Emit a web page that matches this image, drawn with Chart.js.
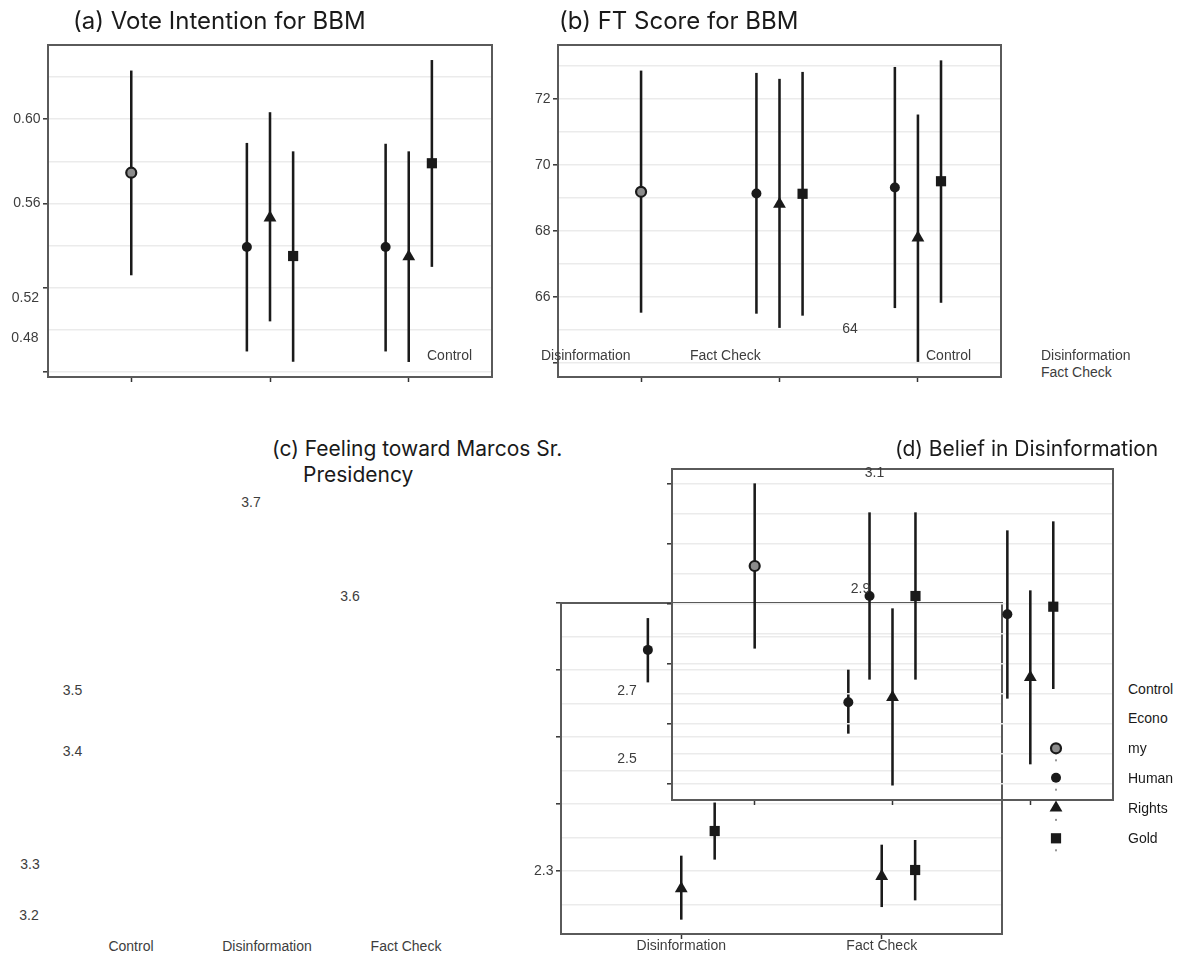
<!DOCTYPE html>
<html>
<head>
<meta charset="utf-8">
<script src="https://cdn.jsdelivr.net/npm/chart.js@4.4.1/dist/chart.umd.min.js"></script>
<style>
  body { margin: 0; background: #fff; }
  #page { position: relative; width: 1186px; height: 956px; overflow: hidden; font-family: 'Liberation Sans', Arial, sans-serif; }
  .panel { position: absolute; }
  .title { position: absolute; font-family: Inter, sans-serif; font-size: 21px; color: #1a1a1a; white-space: nowrap; line-height: 1; transform: translateY(-50%); }
  .title.big { font-size: 24px; }
  .note { position: absolute; font-size: 14px; color: #3d3d3d; white-space: nowrap; line-height: 1; }
  .key { color: #1a1a1a; }
</style>
</head>
<body>
<div id="page"></div>
<script>
// groups on the x axis
const allGroups = ['Control', 'Disinformation', 'Fact Check'];
const treatGroups = ['Disinformation', 'Fact Check'];

// each row: estimate, lower CI, upper CI (one row per group the series appears in)
// (a) vote intention
const voteControl = [[0.5746, 0.526, 0.623]];
const voteEconomy = [[0.5393, 0.4898, 0.5886], [0.5393, 0.4898, 0.5882]];
const voteHuman = [[0.5532, 0.5041, 0.6032], [0.5347, 0.4848, 0.5846]];
const voteGold = [[0.535, 0.4849, 0.5846], [0.5791, 0.530, 0.628]];

// (b) FT score
const ftControl = [[69.19, 65.54, 72.85]];
const ftEconomy = [[69.14, 65.51, 72.78], [69.32, 65.68, 72.96]];
const ftHuman = [[68.82, 65.08, 72.6], [67.8, 64.05, 71.52]];
const ftGold = [[69.13, 65.45, 72.81], [69.51, 65.84, 73.16]];

// lower box (treatment groups only)
const lowEconomy = [[2.63, 2.582, 2.677], [2.552, 2.5055, 2.6]];
const lowHuman = [[2.2737, 2.2279, 2.3224], [2.2922, 2.2467, 2.3388]];
const lowGold = [[2.3597, 2.3175, 2.4017], [2.3015, 2.2567, 2.3458]];

// upper box
const upControl = [[2.9633, 2.8262, 3.1005]];
const upEconomy = [[2.9133, 2.7745, 3.0522], [2.8828, 2.7428, 3.0222]];
const upHuman = [[2.7445, 2.598, 2.8922], [2.7777, 2.6333, 2.9222]];
const upGold = [[2.9133, 2.7745, 3.0522], [2.8955, 2.7589, 3.0372]];

// y gridlines, tick marks and the tick labels kept on each axis
const voteGrid = [0.48, 0.50, 0.52, 0.54, 0.56, 0.58, 0.60, 0.62];
const voteMajor = [0.48, 0.52, 0.56, 0.60];
const voteShown = ['0.60', '0.56'];
const ftGrid = [64, 65, 66, 67, 68, 69, 70, 71, 72, 73];
const ftMajor = [64, 66, 68, 70, 72];
const ftShown = ['66', '68', '70', '72'];
const lowGrid = [2.25, 2.3, 2.35, 2.4, 2.45, 2.5, 2.55, 2.6, 2.65, 2.7];
const lowMajor = [2.3, 2.4, 2.5, 2.6, 2.7];
const lowShown = ['2.3'];
const upGrid = [2.6, 2.65, 2.7, 2.75, 2.8, 2.85, 2.9, 2.95, 3.0, 3.05, 3.1];
const upMajor = [2.6, 2.7, 2.8, 2.9, 3.0, 3.1];
const upShown = [];

const legendLabels = ['Control', 'Econo', 'my', 'Human', 'Rights', 'Gold'];

const INK = '#1a1a1a';
const dodge = { Control: 0, Economy: -1 / 6, 'Human Rights': 0, Gold: 1 / 6 };
const marker = {
  Control: { pointStyle: 'circle', pointRadius: 5, pointBackgroundColor: '#8c8c8c', pointBorderColor: INK, pointBorderWidth: 2.2 },
  Economy: { pointStyle: 'circle', pointRadius: 5, pointBackgroundColor: INK, pointBorderWidth: 0 },
  'Human Rights': { pointStyle: 'triangle', pointRadius: 7.4, pointBackgroundColor: INK, pointBorderWidth: 0 },
  Gold: { pointStyle: 'rect', pointRadius: 7.2, pointBackgroundColor: INK, pointBorderWidth: 0 }
};

const page = document.getElementById('page');

const framePlugin = {
  id: 'frame',
  afterDraw(chart) {
    const { ctx, chartArea: a } = chart;
    ctx.save();
    ctx.strokeStyle = '#5a5a5a';
    ctx.lineWidth = 2;
    ctx.strokeRect(a.left, a.top, a.right - a.left, a.bottom - a.top);
    ctx.restore();
  }
};

function makePanel(p) {
  const [x0, y0, x1, y1] = p.frame;
  const w = x1 - x0 + 72, h = y1 - y0 + 42;
  const canvas = document.createElement('canvas');
  canvas.className = 'panel';
  canvas.width = w; canvas.height = h;
  canvas.style.left = (x0 - 60) + 'px';
  canvas.style.top = (y0 - 12) + 'px';
  page.appendChild(canvas);

  const datasets = [];
  for (const [name, rows] of Object.entries(p.series)) {
    const gs = name === 'Control' ? ['Control'] : treatGroups;
    const pts = rows.map((r, i) => ({ x: p.groups.indexOf(gs[i]) + dodge[name], est: r[0], lo: r[1], hi: r[2] }));
    datasets.push({
      type: 'bar', label: name + ' CI',
      data: pts.map(d => ({ x: d.x, y: [d.lo, d.hi] })),
      backgroundColor: INK, barThickness: 1.9, grouped: false, order: 2
    });
    datasets.push(Object.assign({
      type: 'scatter', label: name,
      data: pts.map(d => ({ x: d.x, y: d.est })),
      order: 1
    }, marker[name]));
  }

  const isMajor = v => p.major.some(m => Math.abs(m - v) < 1e-9);
  const labelFor = v => p.shown.find(s => Math.abs(parseFloat(s) - v) < 1e-9) || '';

  new Chart(canvas, {
    type: 'scatter',
    data: { datasets },
    options: {
      responsive: false,
      animation: false,
      events: [],
      layout: { padding: { top: 12, right: 12, left: 0, bottom: 0 } },
      plugins: { legend: { display: false }, tooltip: { enabled: false } },
      scales: {
        x: {
          type: 'linear', min: -0.6, max: p.groups.length - 0.4, offset: false,
          afterBuildTicks: s => { s.ticks = p.groups.map((g, i) => ({ value: i })); },
          afterFit: s => { s.height = 30; },
          border: { display: false },
          grid: { offset: false, drawOnChartArea: false, drawTicks: true, tickLength: 5, tickColor: '#333', tickWidth: 1.5 },
          ticks: {
            display: !!p.xLabels, autoSkip: false, maxRotation: 0, padding: -1.5,
            color: '#3d3d3d', font: { size: 14 },
            callback: v => p.groups[Math.round(v)] || ''
          }
        },
        y: {
          type: 'linear', min: p.min, max: p.max,
          afterBuildTicks: s => { s.ticks = p.grid.map(v => ({ value: v })); },
          afterFit: s => { s.width = 60; },
          border: { display: false },
          grid: {
            color: '#ebebeb', lineWidth: 1.6, drawTicks: true, tickLength: 5, tickWidth: 1.5,
            tickColor: c => (c.tick && isMajor(c.tick.value)) ? '#333' : 'rgba(0,0,0,0)'
          },
          ticks: {
            padding: 2.5, color: '#3d3d3d', font: { size: 14 },
            callback: v => labelFor(v)
          }
        }
      }
    },
    plugins: [framePlugin]
  });
}

Chart.defaults.font.family = "'Liberation Sans', Arial, sans-serif";

makePanel({ frame: [48, 45, 492, 377], groups: allGroups, min: 0.4775, max: 0.6353,
  grid: voteGrid, major: voteMajor, shown: voteShown,
  series: { Control: voteControl, Economy: voteEconomy, 'Human Rights': voteHuman, Gold: voteGold } });
makePanel({ frame: [558, 45, 1001, 377], groups: allGroups, min: 63.583, max: 73.635,
  grid: ftGrid, major: ftMajor, shown: ftShown,
  series: { Control: ftControl, Economy: ftEconomy, 'Human Rights': ftHuman, Gold: ftGold } });
makePanel({ frame: [561, 603, 1002, 934], groups: treatGroups, min: 2.206, max: 2.7,
  grid: lowGrid, major: lowMajor, shown: lowShown, xLabels: true,
  series: { Economy: lowEconomy, 'Human Rights': lowHuman, Gold: lowGold } });
makePanel({ frame: [672, 469, 1113, 800], groups: allGroups, min: 2.5733, max: 3.125,
  grid: upGrid, major: upMajor, shown: upShown,
  series: { Control: upControl, Economy: upEconomy, 'Human Rights': upHuman, Gold: upGold } });

// titles
const titles = [
  ['(a) Vote Intention for BBM', 73, 21, 'big'],
  ['(b) FT Score for BBM', 559, 21, 'big'],
  ['(c) Feeling toward Marcos Sr.', 272, 448, ''],
  ['Presidency', 303, 474, ''],
  ['(d) Belief in Disinformation', 895, 448, '']
];
for (const [t, x, y, cls] of titles) {
  const d = document.createElement('div');
  d.className = 'title ' + cls;
  d.textContent = t;
  d.style.left = x + 'px';
  d.style.top = y + 'px';
  page.appendChild(d);
}

// loose axis text: [text, x, y, anchor]
const notes = [
  ['0.52', 39, 297, 'r'], ['0.48', 38.5, 337, 'r'], ['Control', 427, 355, 'l'],
  ['Disinformation', 541, 355, 'l'], ['Fact Check', 690, 355, 'l'], ['Control', 926, 355, 'l'],
  ['64', 850, 328, 'c'], ['Disinformation', 1041, 355, 'l'], ['Fact Check', 1041, 372, 'l'],
  ['3.7', 251, 502, 'c'], ['3.6', 350, 596, 'c'], ['3.5', 72.5, 690, 'c'], ['3.4', 72.5, 750.5, 'c'],
  ['3.3', 30, 863.5, 'c'], ['3.2', 29, 915, 'c'],
  ['Control', 131, 945.5, 'c'], ['Disinformation', 267, 945.5, 'c'], ['Fact Check', 406, 945.5, 'c'],
  ['3.1', 874.5, 472, 'c'], ['2.9', 860.5, 588, 'c'], ['2.7', 627, 689.5, 'c'], ['2.5', 627, 757.5, 'c']
];
const shift = { l: 'translate(0,-50%)', c: 'translate(-50%,-50%)', r: 'translate(-100%,-50%)' };
for (const [t, x, y, a] of notes) {
  const d = document.createElement('div');
  d.className = 'note';
  d.textContent = t;
  d.style.left = x + 'px';
  d.style.top = y + 'px';
  d.style.transform = shift[a];
  page.appendChild(d);
}

// legend text
legendLabels.forEach((t, i) => {
  const d = document.createElement('div');
  d.className = 'note key';
  d.textContent = t;
  d.style.left = '1128px';
  d.style.top = (688.5 + i * 29.9) + 'px';
  d.style.transform = shift.l;
  page.appendChild(d);
});

// legend keys
const lg = document.createElement('canvas');
lg.className = 'panel';
lg.width = 30; lg.height = 130;
lg.style.left = '1041px';
lg.style.top = '735px';
page.appendChild(lg);
const g = lg.getContext('2d');
const cx = 15;
const keyY = [13.3, 42.7, 72.9, 103.3];
// grey circle
g.beginPath(); g.arc(cx, keyY[0], 5, 0, Math.PI * 2);
g.fillStyle = '#8c8c8c'; g.fill(); g.lineWidth = 2.2; g.strokeStyle = INK; g.stroke();
g.fillStyle = INK;
// black circle
g.beginPath(); g.arc(cx, keyY[1], 5, 0, Math.PI * 2); g.fill();
// triangle
const r = 7.4;
g.beginPath();
g.moveTo(cx, keyY[2] - r);
g.lineTo(cx + r * Math.sin(2 * Math.PI / 3), keyY[2] - r * Math.cos(2 * Math.PI / 3));
g.lineTo(cx + r * Math.sin(4 * Math.PI / 3), keyY[2] - r * Math.cos(4 * Math.PI / 3));
g.closePath(); g.fill();
// square
g.fillRect(cx - 5.1, keyY[3] - 5.1, 10.2, 10.2);
// dotted stems under each key
g.fillStyle = '#333';
keyY.forEach(y => g.fillRect(cx - 0.5, y + 11, 1, 2));
</script>
</body>
</html>
